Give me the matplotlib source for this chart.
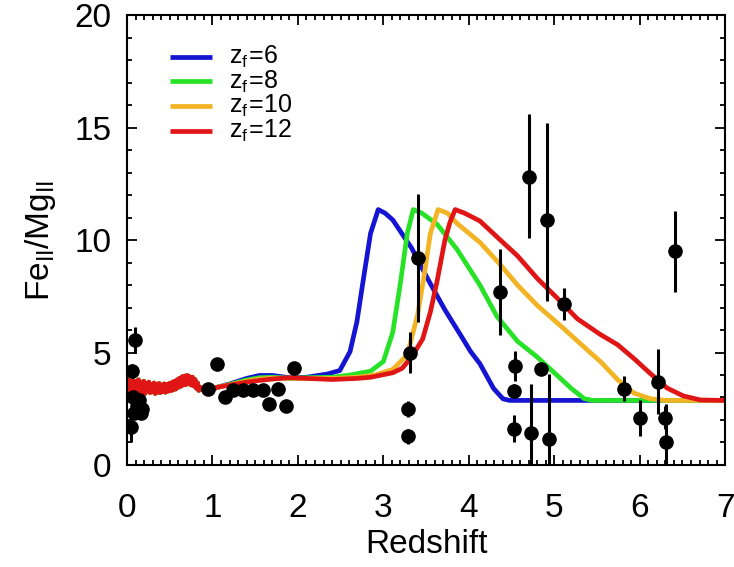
import numpy as np
import matplotlib
matplotlib.use("Agg")
import matplotlib.pyplot as plt
from matplotlib.ticker import MultipleLocator

plt.rcParams['font.family'] = ['Liberation Sans', 'DejaVu Sans']
plt.rcParams['mathtext.fontset'] = 'custom'
plt.rcParams['mathtext.rm'] = 'Liberation Sans'
plt.rcParams['mathtext.it'] = 'Liberation Sans'

# noisy low-redshift part, common to all four models
z_noise = [0.000, 0.015, 0.030, 0.045, 0.060, 0.075, 0.090, 0.105, 0.120, 0.135,
           0.150, 0.165, 0.180, 0.195, 0.210, 0.225, 0.240, 0.255, 0.270, 0.285,
           0.300, 0.315, 0.330, 0.345, 0.360, 0.375, 0.390, 0.405, 0.420, 0.435,
           0.450, 0.465, 0.480, 0.495, 0.510, 0.525, 0.540, 0.555, 0.570, 0.585,
           0.600, 0.615, 0.630, 0.645, 0.660, 0.675, 0.690, 0.705, 0.720, 0.735,
           0.750, 0.765, 0.780, 0.795, 0.810, 0.825, 0.840, 0.855]
fe_noise = [3.40, 3.78, 3.20, 3.72, 3.26, 3.75, 3.18, 3.70, 3.24, 3.78,
            3.22, 3.64, 3.26, 3.72, 3.18, 3.62, 3.30, 3.68, 3.22, 3.58,
            3.26, 3.64, 3.18, 3.58, 3.24, 3.62, 3.22, 3.55, 3.26, 3.60,
            3.24, 3.58, 3.28, 3.62, 3.30, 3.66, 3.34, 3.72, 3.38, 3.78,
            3.46, 3.85, 3.50, 3.92, 3.56, 3.95, 3.58, 3.98, 3.62, 3.92,
            3.56, 3.90, 3.52, 3.80, 3.42, 3.64, 3.32, 3.45]

# model tracks for each formation redshift (after the noisy part)
z_f6 = [0.90, 0.97, 1.05, 1.20, 1.40, 1.55, 1.70, 1.90, 2.10, 2.34, 2.49, 2.61,
        2.69, 2.76, 2.85, 2.94, 3.02, 3.11, 3.33, 3.53, 3.72, 3.90, 4.02, 4.13,
        4.29, 4.40, 4.48, 7.00]
fe_f6 = [3.30, 3.25, 3.45, 3.60, 3.85, 3.98, 3.98, 3.88, 3.90, 4.04, 4.20, 5.04,
         6.36, 8.11, 10.30, 11.36, 11.20, 10.90, 9.65, 8.20, 6.90, 5.80, 5.05, 4.50,
         3.40, 2.94, 2.87, 2.87]

z_f8 = [0.90, 0.97, 1.05, 1.20, 1.40, 1.55, 1.70, 1.90, 2.10, 2.40, 2.61, 2.85,
        3.00, 3.11, 3.20, 3.28, 3.35, 3.45, 3.63, 3.86, 4.13, 4.33, 4.57, 4.80,
        5.00, 5.20, 5.35, 5.45, 7.00]
fe_f8 = [3.32, 3.28, 3.45, 3.58, 3.78, 3.88, 3.90, 3.85, 3.88, 3.90, 4.00, 4.17,
         4.60, 5.90, 8.10, 10.30, 11.36, 11.20, 10.70, 9.60, 8.00, 6.60, 5.50, 4.80,
         4.10, 3.40, 2.95, 2.87, 2.87]

z_f10 = [0.90, 0.97, 1.05, 1.20, 1.40, 1.55, 1.70, 1.90, 2.10, 2.40, 2.70, 2.90,
         3.11, 3.28, 3.40, 3.47, 3.55, 3.64, 3.75, 3.86, 4.13, 4.37, 4.57, 4.80,
         5.10, 5.42, 5.54, 5.74, 5.93, 6.12, 6.30, 7.00]
fe_f10 = [3.34, 3.30, 3.45, 3.56, 3.72, 3.82, 3.86, 3.86, 3.85, 3.85, 3.90, 4.00,
          4.25, 4.90, 6.67, 8.25, 10.30, 11.36, 11.20, 10.75, 9.90, 8.90, 8.00, 7.10,
          6.10, 5.00, 4.60, 3.80, 3.20, 2.95, 2.87, 2.87]

z_f12 = [0.90, 0.97, 1.05, 1.20, 1.40, 1.55, 1.70, 1.90, 2.10, 2.40, 2.70, 2.85,
         3.11, 3.22, 3.33, 3.46, 3.55, 3.63, 3.72, 3.78, 3.84, 3.95, 4.13, 4.37,
         4.57, 4.80, 5.04, 5.27, 5.54, 5.74, 5.93, 6.12, 6.32, 6.51, 6.71, 7.00]
fe_f12 = [3.38, 3.35, 3.45, 3.55, 3.68, 3.76, 3.82, 3.88, 3.85, 3.80, 3.85, 3.90,
          4.10, 4.30, 4.80, 5.60, 6.80, 8.20, 10.00, 10.80, 11.36, 11.20, 10.85, 10.00,
          9.30, 8.30, 7.40, 6.50, 5.80, 5.35, 4.74, 4.08, 3.42, 3.07, 2.89, 2.87]

# quasar measurements
z_obs = [0.09, 0.06, 0.05, 0.08, 0.12, 0.16, 0.14, 0.07, 0.18,
         0.95, 1.05, 1.15, 1.24, 1.36, 1.48, 1.59, 1.77, 1.66, 1.86, 1.96,
         3.40, 3.31, 3.29, 3.29, 4.70, 4.91, 4.37, 5.11, 4.54, 4.53, 4.53,
         4.73, 4.84, 4.94, 5.82, 6.00, 6.21, 6.29, 6.31, 6.41]
fe_obs = [5.57, 4.17, 1.70, 2.30, 2.60, 2.30, 2.90, 3.00, 2.50,
          3.40, 4.50, 3.00, 3.33, 3.33, 3.33, 3.33, 3.40, 2.70, 2.60, 4.30,
          9.20, 5.00, 2.50, 1.27, 12.80, 10.90, 7.70, 7.15, 4.40, 3.30, 1.60,
          1.40, 4.25, 1.15, 3.40, 2.10, 3.70, 2.10, 1.00, 9.50]
err_lo = [0.57, 0.30, 0.70, 0.0, 0.0, 0.0, 0.0, 0.0, 0.0,
          0.0, 0.0, 0.0, 0.0, 0.0, 0.0, 0.0, 0.0, 0.0, 0.0, 0.0,
          2.85, 0.90, 0.35, 0.35, 2.70, 3.60, 1.90, 0.70, 0.65, 0.30, 0.60,
          2.20, 0.0, 2.90, 0.55, 0.80, 1.45, 0.50, 1.70, 1.80]
err_hi = [0.57, 0.30, 0.40, 0.0, 0.0, 0.0, 0.0, 0.0, 0.0,
          0.0, 0.0, 0.0, 0.0, 0.0, 0.0, 0.0, 0.0, 0.0, 0.0, 0.0,
          2.85, 0.90, 0.35, 0.35, 2.80, 4.30, 1.90, 0.70, 0.65, 0.30, 0.60,
          2.20, 0.0, 2.90, 0.55, 0.80, 1.45, 0.50, 1.70, 1.80]

labels = [r'$\mathregular{z_f\!=\!6}$', r'$\mathregular{z_f\!=\!8}$',
          r'$\mathregular{z_f\!=\!10}$', r'$\mathregular{z_f\!=\!12}$']
colors = ['#1414d2', '#28e228', '#f2b424', '#e01616']
tracks = [(z_f6, fe_f6), (z_f8, fe_f8), (z_f10, fe_f10), (z_f12, fe_f12)]

fig = plt.figure(figsize=(7.34, 5.67), dpi=100)
ax = fig.add_axes([0.173, 0.180, 0.815, 0.793])

for (zz, ff), col in zip(tracks, colors):
    ax.plot(z_noise + zz, fe_noise + ff, color=col, lw=3.4,
            solid_joinstyle='round', zorder=2)

ax.errorbar(z_obs, fe_obs, yerr=[err_lo, err_hi], fmt='o', color='k', ms=9.5,
            elinewidth=2.2, capsize=0, zorder=3)

# legend drawn by hand in axes coordinates
leg_y = [0.908, 0.853, 0.798, 0.743]
for yy, col, lab in zip(leg_y, colors, labels):
    ax.plot([0.072, 0.142], [yy, yy], color=col, lw=3.4, transform=ax.transAxes,
            solid_capstyle='butt')
    ax.text(0.170, yy, lab, transform=ax.transAxes, fontsize=18, va='center',
            ha='left')

ax.set_xlim(0, 7)
ax.set_ylim(0, 20)
ax.xaxis.set_major_locator(MultipleLocator(1))
ax.xaxis.set_minor_locator(MultipleLocator(0.1))
ax.yaxis.set_major_locator(MultipleLocator(5))
ax.yaxis.set_minor_locator(MultipleLocator(1))
ax.tick_params(which='both', direction='in', top=True, right=True, width=1.3)
ax.tick_params(which='major', length=7)
ax.tick_params(which='minor', length=3.5)
ax.tick_params(axis='x', labelsize=24, pad=20)
ax.tick_params(axis='y', labelsize=24, pad=11)
for sp in ax.spines.values():
    sp.set_linewidth(1.5)

ax.set_xlabel('Redshift', fontsize=24, labelpad=4)
ax.set_ylabel(r'Fe$\mathregular{_{II}}$/Mg$\mathregular{_{II}}$', fontsize=24, labelpad=12)

fig.savefig('out.png', dpi=100)
